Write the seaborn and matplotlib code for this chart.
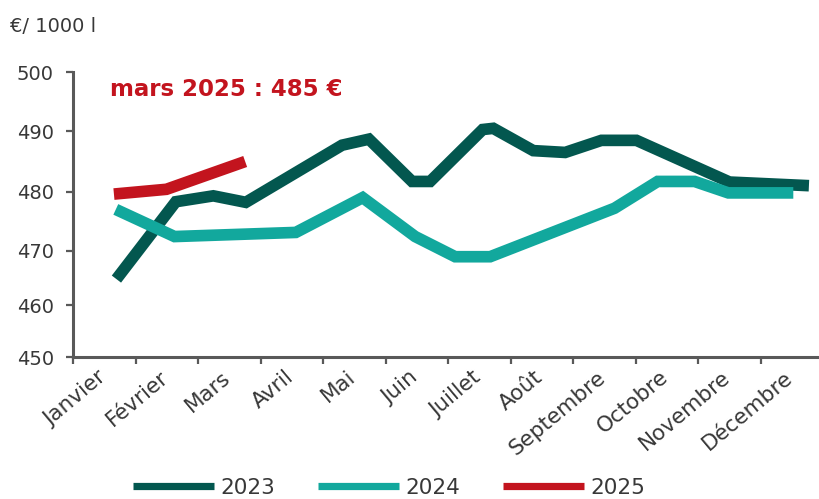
import numpy as np
import pandas as pd
import matplotlib
matplotlib.use("Agg")
import matplotlib.pyplot as plt
from matplotlib.lines import Line2D
from matplotlib.transforms import ScaledTranslation
import seaborn as sns

# Month labels of the x axis
months = ["Janvier", "Février", "Mars", "Avril", "Mai", "Juin", "Juillet",
          "Août", "Septembre", "Octobre", "Novembre", "Décembre"]

# Milk price in €/1000 l; positions are in months (0 = Janvier)
x_2023 = [0.19, 1.14, 1.74, 2.26, 3.80, 4.23, 4.92, 5.21, 6.05, 6.22,
          6.86, 7.37, 7.95, 8.51, 10.00, 11.27]
y_2023 = [464.8, 478.3, 479.3, 478.2, 487.7, 488.7, 481.7, 481.7, 490.3, 490.5,
          486.8, 486.5, 488.5, 488.5, 481.6, 481.0]
x_2024 = [0.18, 1.12, 3.06, 4.13, 4.97, 5.61, 6.17, 8.16, 8.85, 9.44, 9.98, 11.02]
y_2024 = [477.0, 472.4, 473.1, 479.0, 472.4, 468.9, 468.9, 477.2, 481.7, 481.7,
          479.8, 479.8]
x_2025 = [0.15, 0.99, 2.25]
y_2025 = [479.6, 480.4, 485.0]

years = ["2023", "2024", "2025"]
y_ticks = [450, 460, 470, 480, 490, 500]

# Uneven spacing of the graduations along the y axis (fraction of height)
y_stops = [0.0, 0.1825, 0.374, 0.581, 0.793, 1.0]

colors = {"2023": "#03574F", "2024": "#12A89D", "2025": "#C3141E"}
axis_grey = "#595959"
text_grey = "#383838"

frames = []
for year, xs, ys in zip(years, [x_2023, x_2024, x_2025], [y_2023, y_2024, y_2025]):
    frames.append(pd.DataFrame({"mois": xs, "prix": ys, "année": year}))
df = pd.concat(frames, ignore_index=True)

sns.set_style("white")
plt.rcParams["font.family"] = ["DejaVu Sans"]

fig = plt.figure(figsize=(8.2, 4.99), dpi=100)
ax = fig.add_axes([73.3 / 820, (499 - 357.3) / 499, 750 / 820, 285 / 499])

ax.set_yscale("function",
              functions=(lambda v: np.interp(v, y_ticks, y_stops),
                         lambda t: np.interp(t, y_stops, y_ticks)))

sns.lineplot(data=df, x="mois", y="prix", hue="année", palette=colors,
             estimator=None, sort=False, linewidth=8.4, legend=False, ax=ax,
             solid_joinstyle="miter", solid_capstyle="butt")

ax.set_xlim(-0.5, 11.5)
ax.set_ylim(450, 500)
ax.set_xlabel("")
ax.set_ylabel("")

for side in ["top", "right"]:
    ax.spines[side].set_visible(False)
for side in ["left", "bottom"]:
    ax.spines[side].set_color(axis_grey)
    ax.spines[side].set_linewidth(2.2)

ax.set_yticks(y_ticks)
ax.set_yticklabels([str(v) for v in y_ticks])
ax.yaxis.set_minor_locator(matplotlib.ticker.NullLocator())
ax.tick_params(axis="y", which="major", direction="out", length=5, width=1.6,
               color=axis_grey, labelcolor=text_grey, labelsize=14, pad=9, left=True)

ax.set_xticks(np.arange(-0.5, 12, 1))
ax.set_xticklabels([])
ax.set_xticks(np.arange(12), minor=True)
ax.set_xticklabels(months, minor=True, rotation=40, ha="right",
                   rotation_mode="anchor")
ax.tick_params(axis="x", which="major", direction="out", length=5, width=1.6,
               color=axis_grey, bottom=True)
ax.tick_params(axis="x", which="minor", length=0, labelcolor=text_grey,
               labelsize=15.5, pad=7)
shift = ScaledTranslation(-8 / 100, 0, fig.dpi_scale_trans)
for lbl in ax.get_xticklabels(minor=True):
    lbl.set_transform(lbl.get_transform() + shift)

fig.text(10 / 820, 1 - 27 / 499, "€/ 1000 l", fontsize=14, color=text_grey,
         ha="left", va="center")
fig.text(110 / 820, 1 - 89 / 499, f"mars 2025 : {y_2025[-1]:.0f} €",
         fontsize=16.5, fontweight="bold", color=colors["2025"],
         ha="left", va="center")

handles = [Line2D([], [], color=colors[y], linewidth=5.2, solid_capstyle="butt")
           for y in years]
fig.legend(handles, years, loc="center", bbox_to_anchor=(389 / 820, 11 / 499),
           ncol=3, frameon=False, fontsize=15.5, handlelength=3.75,
           handletextpad=0.3, columnspacing=2.0, labelcolor=text_grey,
           borderaxespad=0, borderpad=0)

fig.savefig("out.png", dpi=100)
